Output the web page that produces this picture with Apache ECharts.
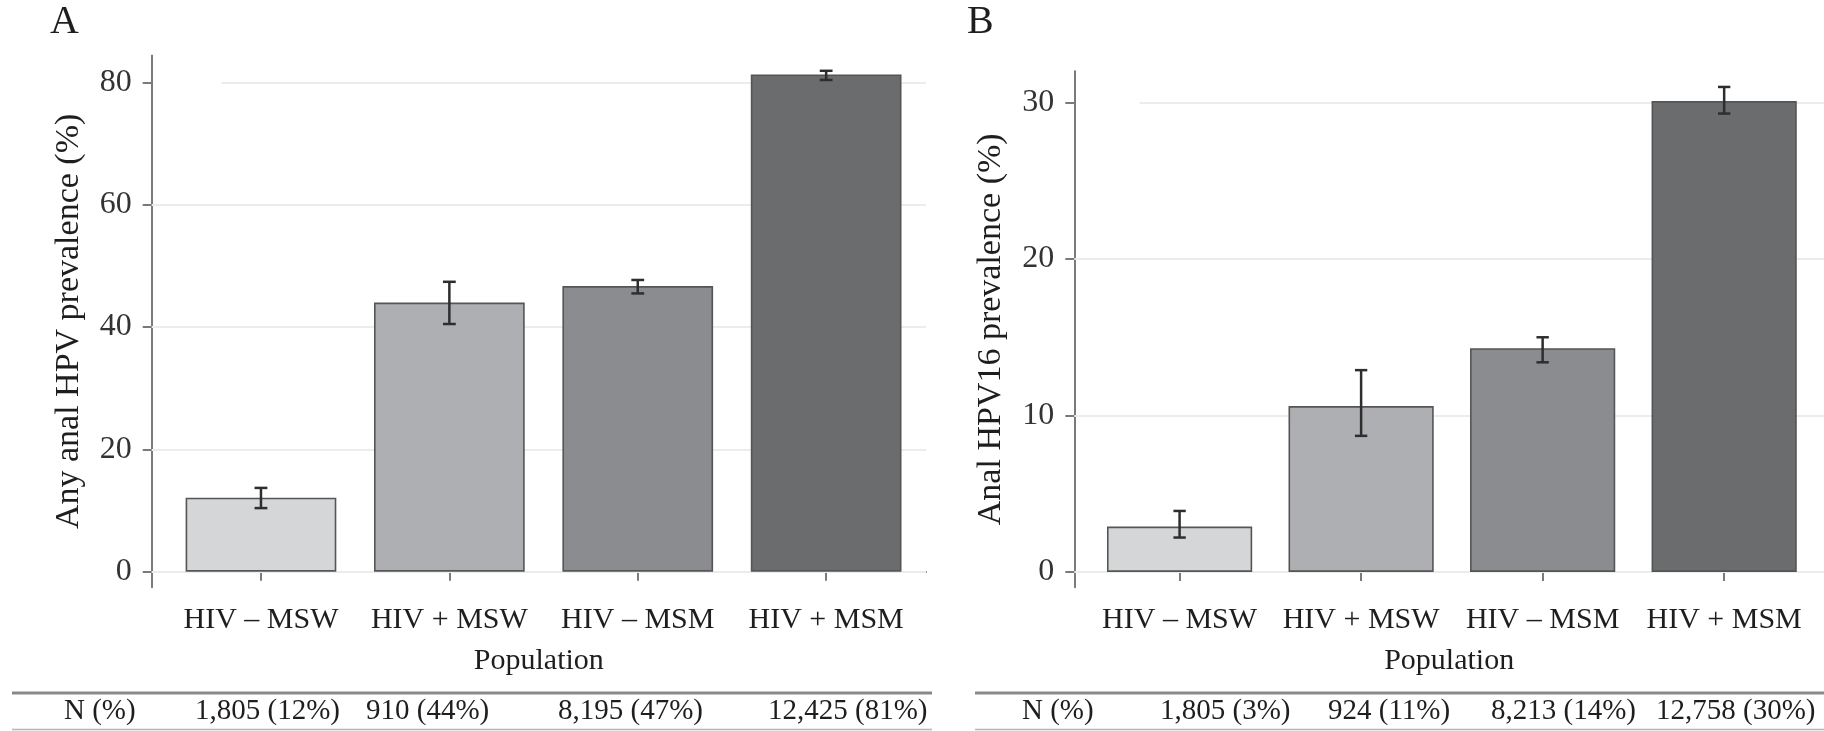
<!DOCTYPE html>
<html>
<head>
<meta charset="utf-8">
<script src="https://cdn.jsdelivr.net/npm/echarts@6/dist/echarts.min.js"></script>
<style>
  html, body { margin: 0; padding: 0; background: #fff; }
  #chart { width: 1824px; height: 731px; }
</style>
</head>
<body>
<div id="chart"></div>
<script>
// ---- data ----
const categories = ['HIV – MSW', 'HIV + MSW', 'HIV – MSM', 'HIV + MSM'];
const catPos = [1, 2, 3, 4];
const anyHpv = [12.1, 44.0, 46.7, 81.3];
const anyHpvLow = [10.4, 40.5, 45.5, 80.4];
const anyHpvHigh = [13.7, 47.4, 47.7, 81.9];
const hpv16 = [2.9, 10.6, 14.3, 30.1];
const hpv16Low = [2.2, 8.7, 13.4, 29.3];
const hpv16High = [3.9, 12.9, 15.0, 31.0];
const ticksA = [0, 20, 40, 60, 80];
const ticksB = [0, 10, 20, 30];
const tableHeader = 'N (%)';
const tableA = ['1,805 (12%)', '910 (44%)', '8,195 (47%)', '12,425 (81%)'];
const tableB = ['1,805 (3%)', '924 (11%)', '8,213 (14%)', '12,758 (30%)'];
const yTitleA = 'Any anal HPV prevalence (%)';
const yTitleB = 'Anal HPV16 prevalence (%)';
const xTitle = 'Population';
const panelLabels = ['A', 'B'];

// ---- styles ----
const FONT = "'Liberation Serif', 'DejaVu Serif', serif";
const barColors = ['#d5d6d8', '#aeafb2', '#8b8c8f', '#6b6c6e'];
const axisColor = '#7a7a7a';
const gridColor = '#ececec';

const chart = echarts.init(document.getElementById('chart'), null, { renderer: 'canvas' });

function xAxisDef(gridIndex, max) {
  return {
    type: 'value', gridIndex: gridIndex, min: 0.42, max: max,
    axisLine: { show: true, lineStyle: { color: axisColor, width: 2 } },
    axisTick: { show: true, length: 9, customValues: catPos, lineStyle: { color: axisColor, width: 2 } },
    axisLabel: { show: true, customValues: catPos, margin: 18, color: '#1e1e1e',
      fontFamily: FONT, fontSize: 30, formatter: v => categories[Math.round(v) - 1] },
    splitLine: { show: false },
    name: xTitle, nameLocation: 'middle', nameGap: 59,
    nameTextStyle: { fontFamily: FONT, fontSize: 30, color: '#1e1e1e' }
  };
}
function yAxisDef(gridIndex, min, max, ticks, title) {
  return {
    type: 'value', gridIndex: gridIndex, min: min, max: max,
    axisLine: { show: true, lineStyle: { color: axisColor, width: 2 } },
    axisTick: { show: true, length: 9, customValues: ticks, lineStyle: { color: axisColor, width: 2 } },
    axisLabel: { show: true, customValues: ticks, margin: 20, color: '#333',
      fontFamily: FONT, fontSize: 32 },
    splitLine: { show: false },
    name: title, nameLocation: 'middle', nameGap: 66,
    nameTextStyle: { fontFamily: FONT, fontSize: 34, color: '#1e1e1e' }
  };
}
function barData(vals) {
  return vals.map((v, i) => ({ value: [catPos[i], v], itemStyle: { color: barColors[i] } }));
}
function errData(lo, hi) {
  return lo.map((l, i) => [catPos[i], l, hi[i]]);
}
function errRender(params, api) {
  const x = api.value(0), lo = api.value(1), hi = api.value(2);
  const hw = 0.034;
  const top = api.coord([x, hi]), bot = api.coord([x, lo]);
  const tl = api.coord([x - hw, hi]), tr = api.coord([x + hw, hi]);
  const bl = api.coord([x - hw, lo]), br = api.coord([x + hw, lo]);
  const st = { stroke: '#2e2e2e', lineWidth: 2.5 };
  return { type: 'group', children: [
    { type: 'line', shape: { x1: top[0], y1: top[1], x2: bot[0], y2: bot[1] }, style: st },
    { type: 'line', shape: { x1: tl[0], y1: tl[1], x2: tr[0], y2: tr[1] }, style: st },
    { type: 'line', shape: { x1: bl[0], y1: bl[1], x2: br[0], y2: br[1] }, style: st }
  ]};
}
function gridLines(gi, ticks, topStart, xMax) {
  const d = ticks.slice(0, -1).map(t => ({ yAxis: t }));
  const last = ticks[ticks.length - 1];
  d.push([{ coord: [topStart, last] }, { coord: [xMax, last] }]);
  return {
    type: 'line', xAxisIndex: gi, yAxisIndex: gi, data: [], z: 1, silent: true,
    markLine: { silent: true, symbol: 'none', z: 1, animation: false, label: { show: false },
      lineStyle: { color: gridColor, width: 2, type: 'solid' }, emphasis: { disabled: true }, data: d }
  };
}
function barSeries(gi, vals) {
  return { type: 'bar', xAxisIndex: gi, yAxisIndex: gi, z: 2, barWidth: '80%',
    itemStyle: { borderColor: '#555', borderWidth: 1.6 }, data: barData(vals) };
}
function errSeries(gi, lo, hi) {
  return { type: 'custom', xAxisIndex: gi, yAxisIndex: gi, z: 3, renderItem: errRender,
    data: errData(lo, hi) };
}

// table graphics
const tableTextStyle = { fontFamily: FONT, fontSize: 29, fill: '#1e1e1e', textVerticalAlign: 'middle' };
const tableAx = [64, 195, 366, 558, 768];
const tableBx = [1022, 1160, 1328, 1491, 1656];
const graphics = [];
function addTable(xs, texts, x0, x1) {
  graphics.push({ type: 'line', shape: { x1: x0, y1: 693, x2: x1, y2: 693 }, style: { stroke: '#8a8a8a', lineWidth: 3 } });
  graphics.push({ type: 'line', shape: { x1: x0, y1: 729.5, x2: x1, y2: 729.5 }, style: { stroke: '#b5b5b5', lineWidth: 1.5 } });
  [tableHeader].concat(texts).forEach((t, i) => {
    graphics.push({ type: 'text', x: xs[i], y: 711, style: Object.assign({ text: t }, tableTextStyle) });
  });
}
addTable(tableAx, tableA, 12, 932);
addTable(tableBx, tableB, 975, 1824);
graphics.push({ type: 'text', x: 50, y: 22, style: { text: panelLabels[0], fontFamily: FONT, fontSize: 40, fill: '#1e1e1e', textVerticalAlign: 'middle' } });
graphics.push({ type: 'text', x: 967, y: 22, style: { text: panelLabels[1], fontFamily: FONT, fontSize: 40, fill: '#1e1e1e', textVerticalAlign: 'middle' } });

const option = {
  animation: false,
  backgroundColor: '#ffffff',
  grid: [
    { left: 151.7, top: 55.5, width: 774.3, height: 531.8 },
    { left: 1074.3, top: 71.3, width: 749.7, height: 516 }
  ],
  xAxis: [xAxisDef(0, 4.53), xAxisDef(1, 4.55)],
  yAxis: [yAxisDef(0, -2.55, 84.4, ticksA, yTitleA), yAxisDef(1, -0.98, 32.0, ticksB, yTitleB)],
  series: [
    gridLines(0, ticksA, 0.79, 4.53),
    gridLines(1, ticksB, 0.78, 4.55),
    barSeries(0, anyHpv),
    barSeries(1, hpv16),
    errSeries(0, anyHpvLow, anyHpvHigh),
    errSeries(1, hpv16Low, hpv16High)
  ],
  graphic: graphics
};
chart.setOption(option);
</script>
</body>
</html>
